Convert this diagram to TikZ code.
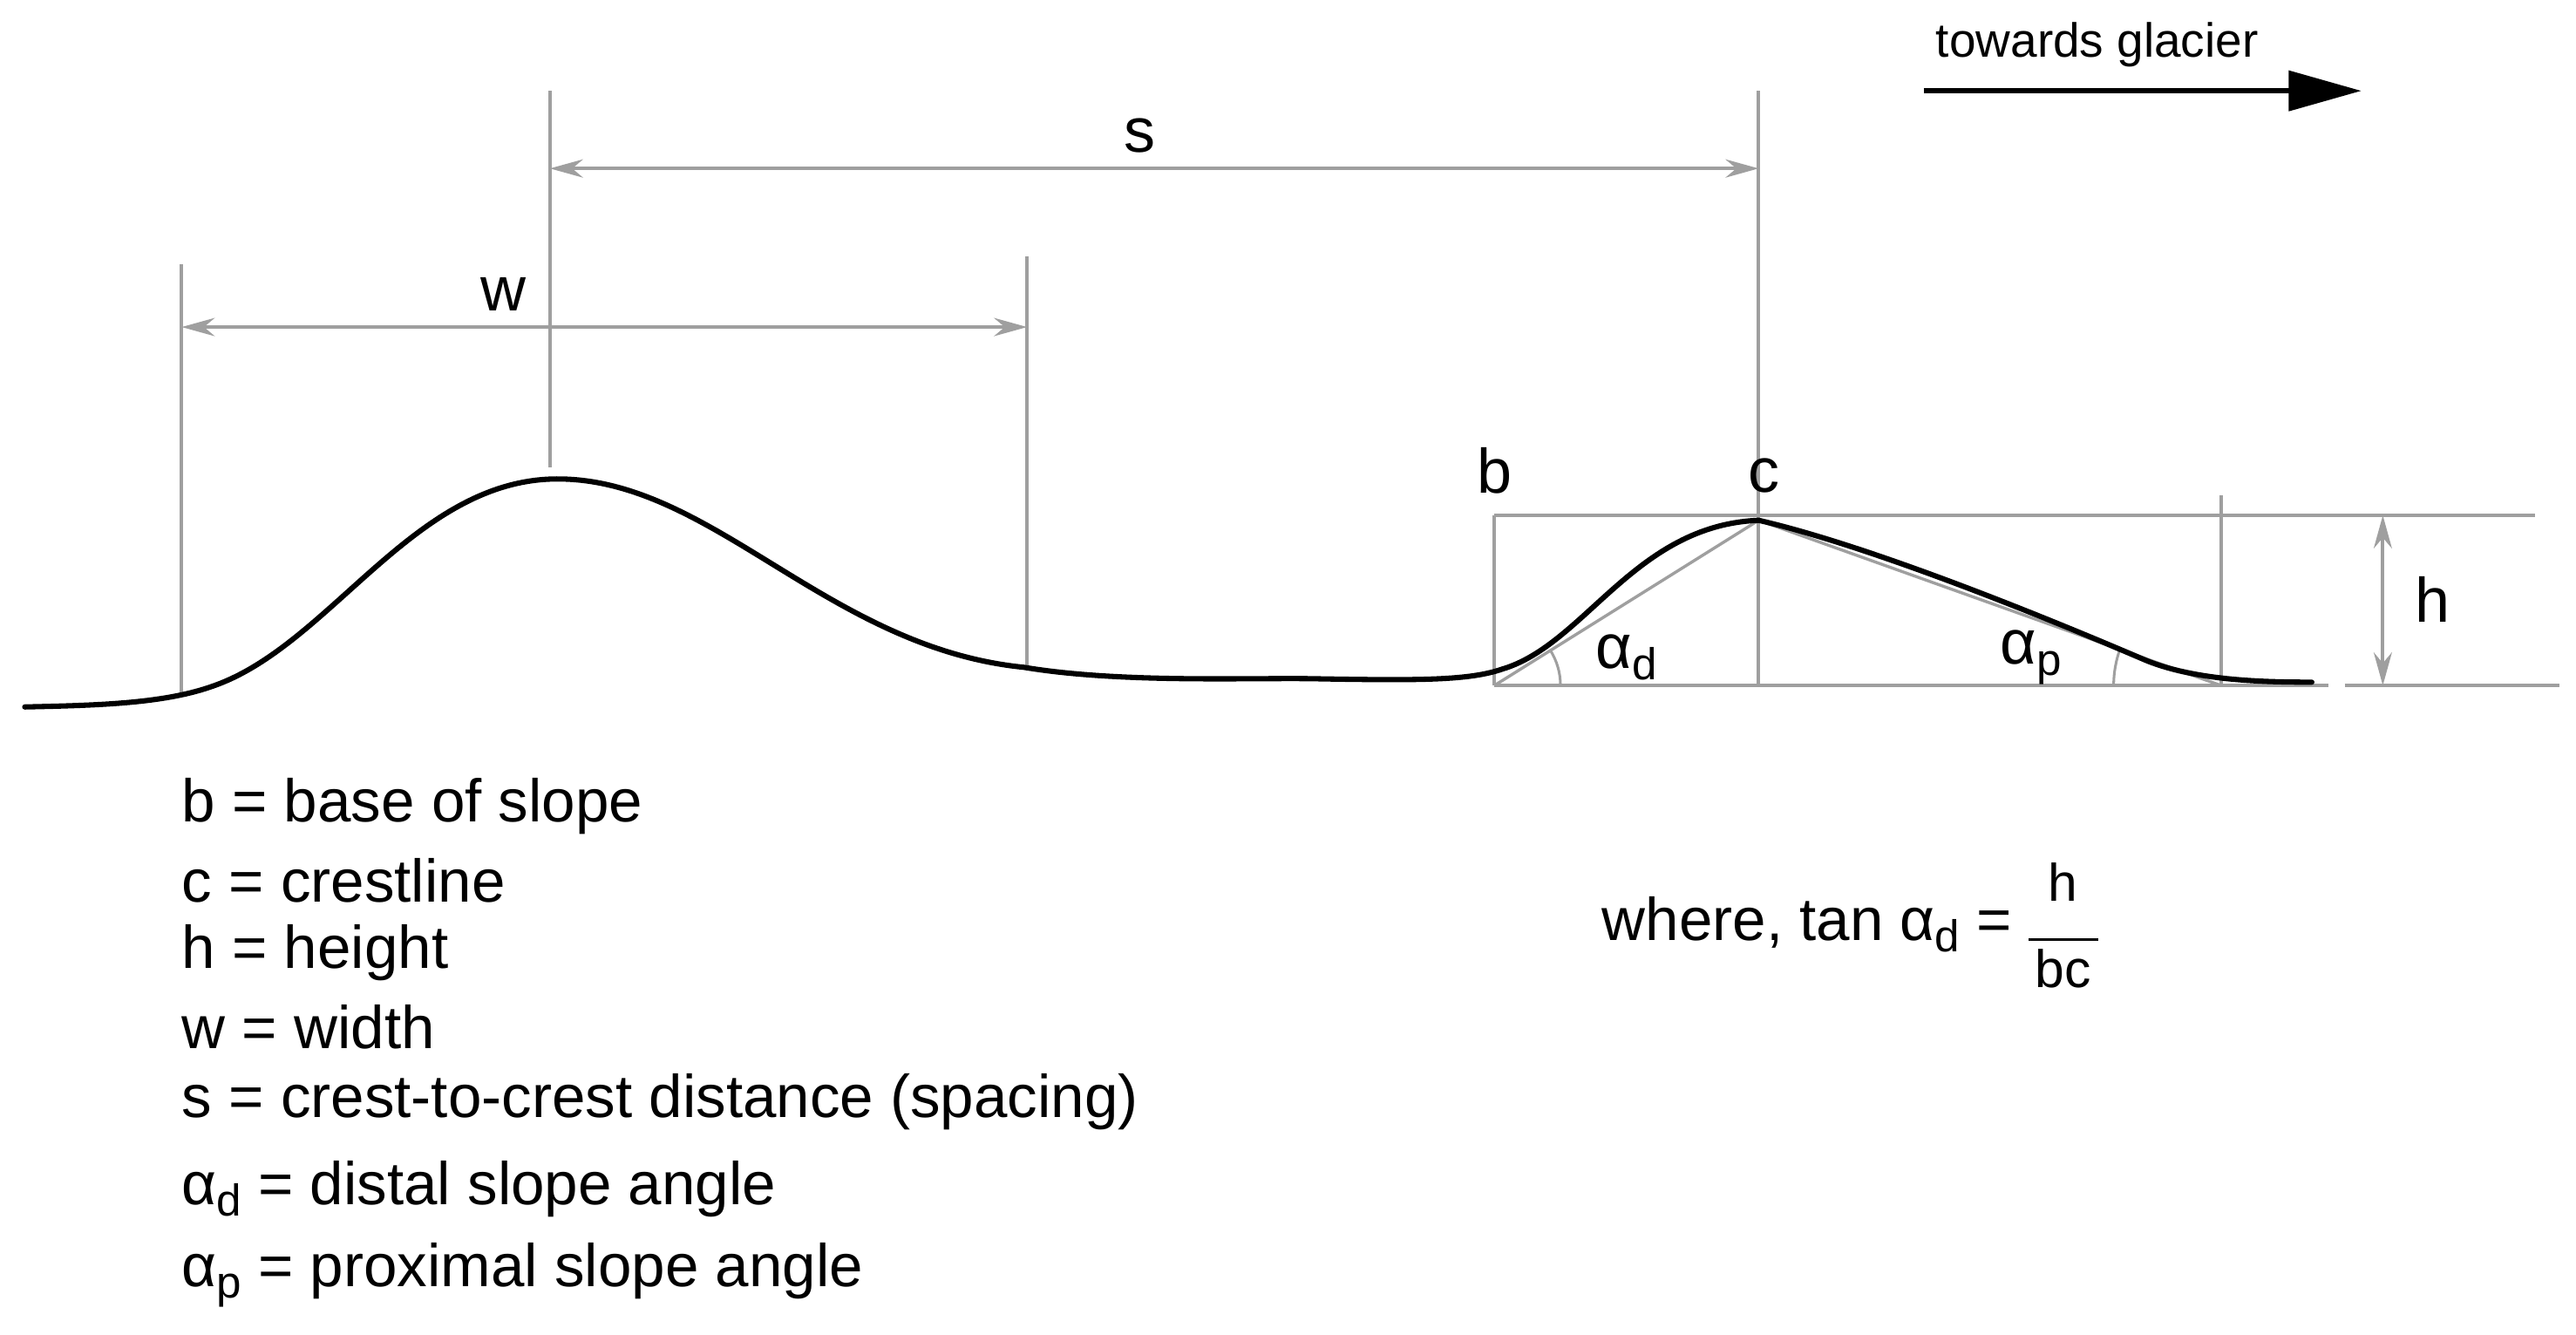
\documentclass[tikz,border=0pt]{standalone}
\usepackage{fontspec}
\setmainfont{Liberation Sans}
\usetikzlibrary{arrows.meta,calc}
\newcommand{\sbs}[1]{\raisebox{-0.35ex}{\fontsize{27}{27}\selectfont #1}}
\begin{document}
\begin{tikzpicture}[x=1pt,y=-1pt,
  gl/.style={draw=gray!75,line width=2.2pt},
  dim/.style={gl,{Stealth[length=20pt,width=11pt]}-{Stealth[length=20pt,width=11pt]}},
  lbl/.style={font=\fontsize{38}{42}\selectfont,inner sep=0pt},
  leg/.style={font=\fontsize{36.5}{40}\selectfont,anchor=west,inner sep=0pt}]
\useasboundingbox (0,0) rectangle (1560,808);
% verticals
\draw[gl] (110,160) -- (110,420);
\draw[gl] (333,55) -- (333,283);
\draw[gl] (622,155) -- (622,403);
\draw[gl] (1065,55) -- (1065,415);
\draw[gl] (905,312) -- (905,415);
\draw[gl] (1345,300) -- (1345,415);
\draw[gl] (905,312) -- (1535,312);
\draw[gl] (905,415) -- (1410,415);
\draw[gl] (1420,415) -- (1550,415);
% dims
\coordinate (w1) at (110,198); \coordinate (w2) at (622,198);
\draw[dim] (w1) -- (w2);
\coordinate (s1) at (333,102); \coordinate (s2) at (1065,102);
\draw[dim] (s1) -- (s2);
\coordinate (h1) at (1443,312); \coordinate (h2) at (1443,415);
\draw[dim] (h1) -- (h2);
% slope lines and angles
\coordinate (B) at (905,415); \coordinate (C) at (1065,315); \coordinate (P) at (1345,415);
\draw[gl,line width=1.8pt] (B) -- (C) -- (P);
\draw[gl,line width=1.6pt] ($(B)+(40,0)$) arc[start angle=0,end angle=-32,radius=40];
\draw[gl,line width=1.6pt] ($(P)+(-65,0)$) arc[start angle=180,end angle=200,radius=65];
% ground
\draw[line width=3.2pt,line cap=round] (15,428) .. controls (60,427) and (100,426) .. (130,415)
 .. controls (200,390) and (250,292) .. (335,290)
 .. controls (430,288) and (500,392) .. (620,404)
 .. controls (680,414) and (760,410) .. (800,411)
 .. controls (860,412) and (890,412) .. (910,405)
 .. controls (960,390) and (990,318) .. (1065,315)
 .. controls (1130,330) and (1230,370) .. (1300,400)
 .. controls (1330,412) and (1370,413) .. (1400,413);
% labels
\node[lbl] (w) at (305,178) {w};
\node[lbl] (s) at (690,82) {s};
\node[lbl] (b) at (905,285) {b};
\node[lbl] (c) at (1068,288) {c};
\node[lbl] (h) at (1473,363) {h};
\node[lbl] (ad) at (985,398) {α\sbs{d}};
\node[lbl] (ap) at (1230,398) {α\sbs{p}};
% glacier arrow
\node[font=\fontsize{29}{32}\selectfont,inner sep=0pt] (tg) at (1270,27) {towards glacier};
\coordinate (g1) at (1165,55); \coordinate (g2) at (1430,55);
\draw[line width=3pt,-{Triangle[length=44pt,width=24pt]}] (g1) -- (g2);
% legend
\node[leg] (l1) at (110,488) {b = base of slope};
\node[leg] (l2) at (110,533) {c = crestline};
\node[leg] (l3) at (110,577) {h = height};
\node[leg] (l4) at (110,622) {w = width};
\node[leg] (l5) at (110,667) {s = crest-to-crest distance (spacing)};
\node[leg] (l6) at (110,720) {α\sbs{d} = distal slope angle};
\node[leg] (l7) at (110,772) {α\sbs{p} = proximal slope angle};
\node[leg] (f) at (970,565) {where, tan α\sbs{d} = \raisebox{-0.1ex}{$\vcenter{\hbox{\fontsize{32}{34}\selectfont\begin{tabular}{@{}c@{}}h\\[-10pt]\rule{42pt}{1.8pt}\\[-6pt]bc\end{tabular}}}$}};
\end{tikzpicture}
\end{document}
